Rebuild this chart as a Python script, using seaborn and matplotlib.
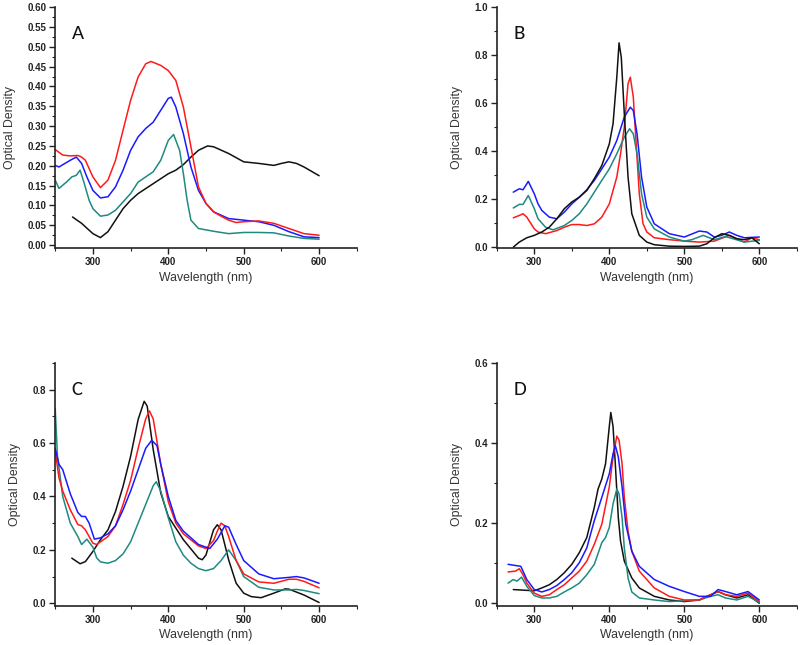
import matplotlib
matplotlib.use("Agg")
import matplotlib.pyplot as plt
import seaborn as sns
import pandas as pd
from matplotlib.ticker import MultipleLocator, FormatStrFormatter

# ---------------- Panel A ----------------
a_red_wl = [250, 260, 270, 280, 285, 290, 300, 310, 320, 330, 340, 350, 360, 370, 377, 390, 400, 410, 420, 430, 440, 450, 460, 470, 480, 490, 500, 520, 540, 560, 580, 600]
a_red_od = [0.241, 0.227, 0.225, 0.226, 0.222, 0.214, 0.172, 0.145, 0.164, 0.214, 0.29, 0.365, 0.424, 0.457, 0.463, 0.453, 0.44, 0.415, 0.348, 0.248, 0.147, 0.105, 0.084, 0.073, 0.063, 0.057, 0.059, 0.061, 0.055, 0.042, 0.029, 0.025]
a_blue_wl = [250, 255, 270, 278, 285, 292, 300, 310, 320, 330, 340, 350, 360, 370, 380, 390, 400, 404, 410, 420, 430, 440, 450, 460, 480, 500, 520, 540, 560, 580, 600]
a_blue_od = [0.201, 0.197, 0.214, 0.222, 0.206, 0.172, 0.138, 0.119, 0.122, 0.147, 0.189, 0.239, 0.273, 0.294, 0.31, 0.34, 0.37, 0.373, 0.348, 0.281, 0.197, 0.138, 0.105, 0.084, 0.067, 0.063, 0.059, 0.05, 0.034, 0.021, 0.019]
a_teal_wl = [250, 255, 265, 272, 278, 283, 288, 295, 300, 310, 320, 330, 340, 350, 360, 380, 390, 400, 407, 415, 420, 425, 430, 440, 460, 480, 500, 520, 540, 560, 580, 600]
a_teal_od = [0.164, 0.143, 0.159, 0.172, 0.176, 0.189, 0.159, 0.113, 0.092, 0.073, 0.076, 0.088, 0.109, 0.13, 0.159, 0.185, 0.214, 0.264, 0.279, 0.239, 0.18, 0.113, 0.063, 0.042, 0.035, 0.029, 0.032, 0.032, 0.031, 0.023, 0.017, 0.015]
a_black_wl = [273, 285, 300, 310, 320, 330, 340, 350, 360, 380, 400, 410, 420, 430, 440, 452, 460, 480, 500, 520, 540, 550, 560, 570, 580, 600]
a_black_od = [0.071, 0.055, 0.029, 0.019, 0.034, 0.063, 0.092, 0.113, 0.13, 0.155, 0.18, 0.189, 0.203, 0.222, 0.239, 0.25, 0.248, 0.231, 0.21, 0.206, 0.201, 0.206, 0.21, 0.206, 0.197, 0.175]

# ---------------- Panel B ----------------
b_black_wl = [272, 280, 290, 300, 310, 320, 330, 340, 350, 360, 370, 380, 390, 400, 405, 410, 413, 416, 420, 425, 430, 440, 450, 460, 480, 500, 520, 530, 540, 550, 560, 570, 580, 590, 600]
b_black_od = [0.0, 0.021, 0.039, 0.049, 0.063, 0.083, 0.118, 0.16, 0.188, 0.208, 0.236, 0.285, 0.34, 0.43, 0.514, 0.708, 0.851, 0.79, 0.556, 0.292, 0.139, 0.049, 0.021, 0.01, 0.004, 0.003, 0.004, 0.014, 0.039, 0.056, 0.049, 0.035, 0.031, 0.039, 0.014]
b_red_wl = [272, 280, 285, 290, 300, 305, 315, 330, 340, 350, 360, 370, 380, 390, 400, 410, 415, 420, 425, 428, 432, 435, 440, 445, 450, 460, 480, 500, 520, 540, 560, 570, 580, 590, 600]
b_red_od = [0.122, 0.132, 0.139, 0.125, 0.076, 0.063, 0.056, 0.069, 0.083, 0.094, 0.094, 0.09, 0.097, 0.125, 0.18, 0.292, 0.389, 0.5, 0.681, 0.708, 0.625, 0.472, 0.222, 0.097, 0.063, 0.039, 0.031, 0.025, 0.021, 0.025, 0.049, 0.035, 0.021, 0.039, 0.031]
b_blue_wl = [272, 280, 285, 292, 300, 305, 310, 320, 330, 340, 350, 360, 370, 380, 390, 400, 410, 420, 428, 432, 437, 443, 450, 460, 480, 500, 520, 530, 540, 550, 560, 570, 580, 600]
b_blue_od = [0.229, 0.243, 0.239, 0.274, 0.222, 0.18, 0.153, 0.125, 0.118, 0.146, 0.18, 0.208, 0.239, 0.278, 0.326, 0.375, 0.444, 0.542, 0.583, 0.569, 0.472, 0.292, 0.167, 0.097, 0.056, 0.042, 0.067, 0.063, 0.042, 0.049, 0.063, 0.049, 0.039, 0.042]
b_teal_wl = [272, 280, 285, 292, 300, 305, 315, 325, 340, 350, 360, 370, 380, 390, 400, 410, 420, 427, 432, 437, 443, 450, 460, 480, 500, 510, 525, 540, 555, 565, 580, 600]
b_teal_od = [0.163, 0.178, 0.178, 0.215, 0.16, 0.118, 0.083, 0.072, 0.09, 0.111, 0.139, 0.18, 0.229, 0.278, 0.326, 0.389, 0.458, 0.493, 0.472, 0.389, 0.222, 0.125, 0.076, 0.042, 0.025, 0.031, 0.049, 0.031, 0.044, 0.035, 0.021, 0.028]

# ---------------- Panel C ----------------
c_black_wl = [272, 283, 290, 300, 310, 320, 330, 340, 350, 360, 368, 372, 380, 390, 400, 420, 440, 445, 450, 460, 465, 470, 480, 490, 500, 510, 523, 540, 555, 560, 580, 600]
c_black_od = [0.169, 0.148, 0.156, 0.194, 0.238, 0.275, 0.344, 0.438, 0.55, 0.688, 0.756, 0.738, 0.575, 0.413, 0.325, 0.238, 0.169, 0.163, 0.181, 0.275, 0.294, 0.275, 0.163, 0.075, 0.038, 0.025, 0.021, 0.038, 0.054, 0.053, 0.031, 0.003]
c_red_wl = [250, 255, 260, 270, 280, 285, 290, 295, 300, 305, 310, 320, 330, 340, 350, 360, 370, 375, 380, 390, 400, 410, 420, 440, 450, 460, 465, 470, 475, 480, 490, 500, 520, 540, 560, 570, 580, 600]
c_red_od = [0.57, 0.47, 0.42, 0.35, 0.295, 0.29, 0.275, 0.25, 0.225, 0.22, 0.23, 0.25, 0.29, 0.37, 0.46, 0.58, 0.69, 0.72, 0.69, 0.52, 0.38, 0.3, 0.26, 0.215, 0.205, 0.235, 0.27, 0.3, 0.29, 0.25, 0.16, 0.11, 0.08, 0.075, 0.09, 0.09, 0.082, 0.058]
c_blue_wl = [250, 255, 260, 270, 280, 285, 290, 295, 302, 310, 320, 330, 340, 350, 360, 370, 378, 385, 390, 400, 410, 420, 440, 455, 465, 475, 480, 490, 500, 520, 540, 560, 570, 580, 600]
c_blue_od = [0.58, 0.52, 0.5, 0.41, 0.34, 0.325, 0.325, 0.3, 0.24, 0.245, 0.26, 0.29, 0.35, 0.42, 0.5, 0.58, 0.61, 0.59, 0.52, 0.4, 0.31, 0.27, 0.22, 0.205, 0.24, 0.29, 0.285, 0.22, 0.16, 0.11, 0.092, 0.097, 0.1, 0.095, 0.075]
c_teal_wl = [250, 253, 260, 270, 280, 285, 292, 300, 305, 310, 320, 330, 340, 350, 360, 370, 380, 384, 390, 400, 410, 420, 430, 440, 450, 460, 470, 480, 490, 500, 520, 540, 560, 570, 580, 600]
c_teal_od = [0.73, 0.55, 0.4, 0.3, 0.25, 0.22, 0.24, 0.21, 0.17, 0.155, 0.15, 0.16, 0.185, 0.23, 0.3, 0.37, 0.44, 0.455, 0.42, 0.32, 0.23, 0.18, 0.15, 0.13, 0.122, 0.13, 0.16, 0.2, 0.16, 0.1, 0.06, 0.05, 0.05, 0.052, 0.048, 0.036]

# ---------------- Panel D ----------------
d_black_wl = [272, 290, 300, 310, 320, 330, 340, 350, 360, 370, 380, 385, 390, 395, 400, 402, 405, 408, 412, 415, 420, 430, 440, 460, 480, 500, 520, 530, 545, 555, 570, 585, 600]
d_black_od = [0.034, 0.032, 0.031, 0.038, 0.046, 0.059, 0.076, 0.097, 0.126, 0.164, 0.239, 0.285, 0.31, 0.348, 0.441, 0.476, 0.441, 0.348, 0.214, 0.155, 0.105, 0.063, 0.038, 0.017, 0.008, 0.004, 0.008, 0.017, 0.029, 0.021, 0.013, 0.021, 0.0]
d_red_wl = [265, 275, 280, 285, 290, 300, 310, 320, 330, 340, 350, 360, 370, 380, 390, 400, 405, 410, 413, 417, 420, 425, 430, 440, 460, 480, 500, 520, 535, 545, 555, 570, 585, 600]
d_red_od = [0.078, 0.08, 0.086, 0.071, 0.05, 0.025, 0.017, 0.021, 0.034, 0.046, 0.063, 0.08, 0.105, 0.147, 0.197, 0.29, 0.365, 0.417, 0.407, 0.348, 0.264, 0.18, 0.13, 0.08, 0.038, 0.017, 0.008, 0.008, 0.021, 0.029, 0.021, 0.017, 0.025, 0.004]
d_blue_wl = [265, 275, 282, 290, 300, 310, 320, 330, 340, 350, 360, 370, 380, 390, 400, 405, 408, 412, 417, 422, 430, 440, 460, 480, 500, 520, 535, 545, 555, 570, 585, 600]
d_blue_od = [0.097, 0.094, 0.092, 0.059, 0.034, 0.028, 0.034, 0.044, 0.059, 0.076, 0.101, 0.138, 0.206, 0.264, 0.323, 0.373, 0.394, 0.365, 0.29, 0.197, 0.13, 0.092, 0.059, 0.042, 0.029, 0.017, 0.017, 0.034, 0.029, 0.021, 0.029, 0.008]
d_teal_wl = [265, 272, 277, 283, 290, 300, 310, 320, 330, 340, 350, 360, 370, 380, 390, 395, 400, 405, 410, 413, 417, 420, 425, 430, 440, 460, 480, 500, 520, 535, 545, 555, 570, 585, 600]
d_teal_od = [0.05, 0.059, 0.055, 0.065, 0.042, 0.019, 0.013, 0.013, 0.017, 0.028, 0.038, 0.05, 0.071, 0.097, 0.151, 0.164, 0.189, 0.248, 0.285, 0.273, 0.214, 0.138, 0.063, 0.028, 0.013, 0.008, 0.004, 0.006, 0.008, 0.017, 0.021, 0.013, 0.008, 0.017, 0.002]

panel_letters = ["A", "B", "C", "D"]
x_label = "Wavelength (nm)"
y_label = "Optical Density"
x_ticks = [300, 400, 500, 600]

RED, BLUE, TEAL, BLACK = "#ff1a1a", "#1a1aff", "#1f8a80", "#111111"

panels = [
    dict(series=[(a_black_wl, a_black_od, BLACK), (a_teal_wl, a_teal_od, TEAL),
                 (a_blue_wl, a_blue_od, BLUE), (a_red_wl, a_red_od, RED)],
         ylim=(-0.008, 0.6), major=0.05, fmt="%.2f",
         rect=[0.069, 0.615, 0.377, 0.374]),
    dict(series=[(b_red_wl, b_red_od, RED), (b_teal_wl, b_teal_od, TEAL),
                 (b_blue_wl, b_blue_od, BLUE), (b_black_wl, b_black_od, BLACK)],
         ylim=(-0.005, 1.0), major=0.2, fmt="%.1f",
         rect=[0.621, 0.615, 0.375, 0.374]),
    dict(series=[(c_black_wl, c_black_od, BLACK), (c_teal_wl, c_teal_od, TEAL),
                 (c_red_wl, c_red_od, RED), (c_blue_wl, c_blue_od, BLUE)],
         ylim=(-0.01, 0.9), major=0.2, fmt="%.1f",
         rect=[0.069, 0.0605, 0.377, 0.377]),
    dict(series=[(d_black_wl, d_black_od, BLACK), (d_teal_wl, d_teal_od, TEAL),
                 (d_red_wl, d_red_od, RED), (d_blue_wl, d_blue_od, BLUE)],
         ylim=(-0.007, 0.6), major=0.2, fmt="%.1f",
         rect=[0.621, 0.0605, 0.375, 0.377]),
]

sns.set_style("ticks")
plt.rcParams["font.family"] = ["Liberation Sans", "DejaVu Sans"]

fig = plt.figure(figsize=(8.0, 6.45), dpi=100)

for letter, p in zip(panel_letters, panels):
    ax = fig.add_axes(p["rect"])
    for wl, od, col in p["series"]:
        sns.lineplot(x=wl, y=od, color=col, linewidth=1.1, ax=ax, estimator=None, sort=False)
    ax.set_xlim(250, 650)
    ax.set_ylim(*p["ylim"])
    ax.set_xticks(x_ticks)
    ax.xaxis.set_minor_locator(MultipleLocator(50))
    ax.yaxis.set_major_locator(MultipleLocator(p["major"]))
    ax.yaxis.set_minor_locator(MultipleLocator(p["major"] / 2))
    ax.yaxis.set_major_formatter(FormatStrFormatter(p["fmt"]))
    sns.despine(ax=ax)
    for s in ["left", "bottom"]:
        ax.spines[s].set_linewidth(1.2)
        ax.spines[s].set_color("#222222")
    ax.tick_params(which="major", length=4, width=1, colors="#222222", labelsize=7, direction="out", pad=2.5)
    ax.tick_params(which="minor", length=2.5, width=0.8, colors="#222222", direction="out")
    for lbl in ax.get_xticklabels() + ax.get_yticklabels():
        lbl.set_fontweight("bold")
    ax.set_xlabel(x_label, fontsize=8.8, color="#333333", labelpad=3)
    ax.set_ylabel(y_label, fontsize=8.8, color="#333333", labelpad=8)
    ax.text(0.055, 0.89, letter, transform=ax.transAxes, fontsize=15,
            color="#111111", va="center", ha="left", family=["Carlito", "Liberation Sans", "DejaVu Sans"])

fig.savefig("out.png", dpi=100)
